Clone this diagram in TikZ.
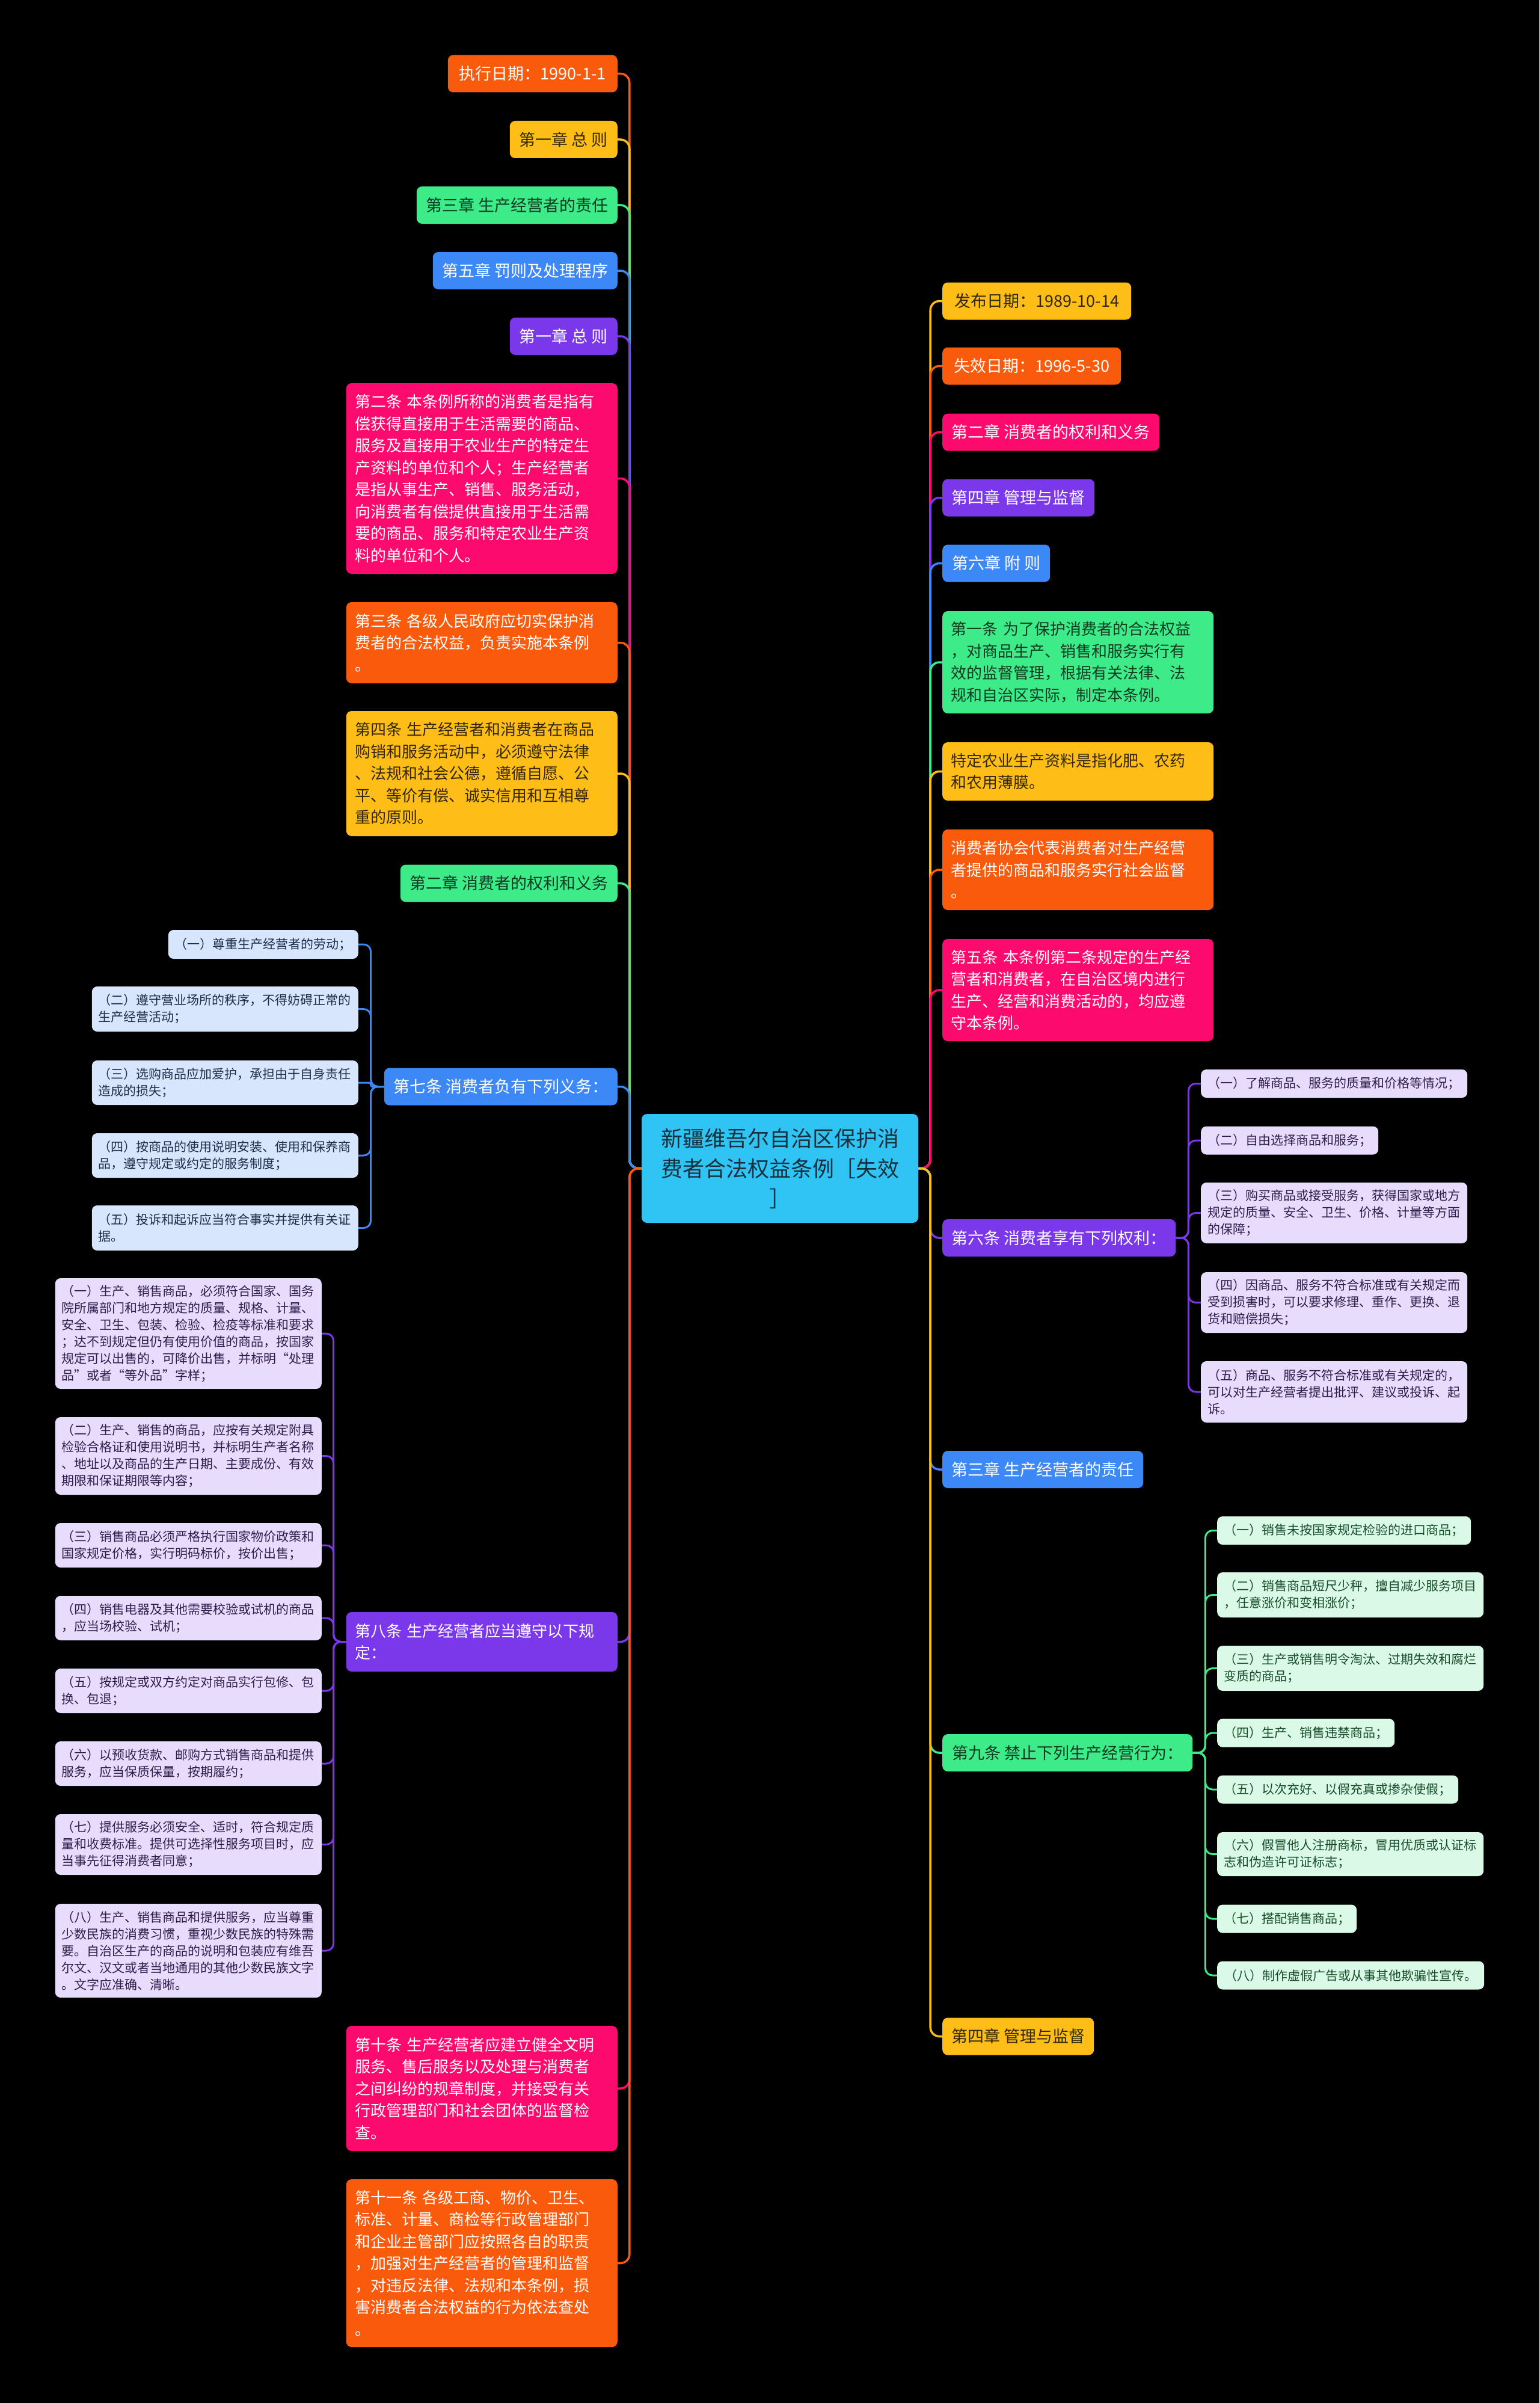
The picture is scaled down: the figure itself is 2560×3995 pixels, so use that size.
\documentclass[tikz,border=0pt]{standalone}
\usepackage{fontspec}
\setmainfont{Noto Sans CJK SC}
\definecolor{cOr}{HTML}{FA5A0C}
\definecolor{cYe}{HTML}{FFBE17}
\definecolor{cGr}{HTML}{3DEB89}
\definecolor{cBl}{HTML}{3C88F6}
\definecolor{cPu}{HTML}{7B38EB}
\definecolor{cPk}{HTML}{FC0A6D}
\definecolor{cRoot}{HTML}{30C4F5}
\definecolor{tYe}{HTML}{33270A}
\definecolor{tGr}{HTML}{113A22}
\definecolor{tRoot}{HTML}{16313D}
\definecolor{fBl}{HTML}{D7E6FD}
\definecolor{fPu}{HTML}{E7DCFB}
\definecolor{fGr}{HTML}{DAFAE7}
\definecolor{tBl}{HTML}{1E2C48}
\definecolor{tPu}{HTML}{2D1C4C}
\definecolor{tGc}{HTML}{174D2A}
\newcommand\fmain{\fontsize{26}{36.5}\selectfont}
\newcommand\fone{\fontsize{27}{36.5}\selectfont}
\newcommand\fchild{\fontsize{21}{28}\selectfont}
\newcommand\froot{\fontsize{36}{50}\selectfont}
\tikzset{
  nd/.style={rounded corners=9pt, inner ysep=0pt},
  boxone/.style={nd, font=\fone, align=center, inner xsep=12pt, minimum height=62pt},
  boxmulti/.style={nd, font=\fmain, text width=422pt, align=left, inner xsep=14.5pt},
  chone/.style={nd, font=\fchild, align=center, inner xsep=11pt, minimum height=47pt},
  chmulti/.style={nd, font=\fchild, text width=421pt, align=left, inner xsep=11pt},
  sOr/.style={fill=cOr, text=white},
  sYe/.style={fill=cYe, text=tYe},
  sGr/.style={fill=cGr, text=tGr},
  sBl/.style={fill=cBl, text=white},
  sPu/.style={fill=cPu, text=white},
  sPk/.style={fill=cPk, text=white},
  kBl/.style={fill=fBl, text=tBl},
  kPu/.style={fill=fPu, text=tPu},
  kGr/.style={fill=fGr, text=tGc},
  lnmain/.style={line width=3.5pt, rounded corners=15pt},
  lnsub/.style={line width=3pt, rounded corners=12pt},
}
\begin{document}
\begin{tikzpicture}[x=1pt,y=-1pt]
\useasboundingbox (0,0) rectangle (2560,3995);
\fill[black] (0,0) rectangle (2560,3995);

% root
\node[nd, fill=cRoot, text=tRoot, font=\froot, align=center, minimum width=460, minimum height=181] (root) at (1297,1942.5) {新疆维吾尔自治区保护消\\费者合法权益条例［失效\\］};

% left main
\node[boxone,sOr,anchor=east,minimum width=282] (L1) at (1027,122.5) {执行日期：1990-1-1};
\node[boxone,sYe,anchor=east,minimum width=179] (L2) at (1027,232) {第一章 总 则};
\node[boxone,sGr,anchor=east,minimum width=334] (L3) at (1027,341) {第三章 生产经营者的责任};
\node[boxone,sBl,anchor=east,minimum width=307] (L4) at (1027,450) {第五章 罚则及处理程序};
\node[boxone,sPu,anchor=east,minimum width=179] (L5) at (1027,559) {第一章 总 则};
\node[boxmulti,sPk,anchor=east,minimum height=317] (L6) at (1027,795.5) {第二条 本条例所称的消费者是指有\\偿获得直接用于生活需要的商品、\\服务及直接用于农业生产的特定生\\产资料的单位和个人；生产经营者\\是指从事生产、销售、服务活动，\\向消费者有偿提供直接用于生活需\\要的商品、服务和特定农业生产资\\料的单位和个人。};
\node[boxmulti,sOr,anchor=east,minimum height=135] (L7) at (1027,1068.5) {第三条 各级人民政府应切实保护消\\费者的合法权益，负责实施本条例\\。};
\node[boxmulti,sYe,anchor=east,minimum height=208] (L8) at (1027,1286) {第四条 生产经营者和消费者在商品\\购销和服务活动中，必须遵守法律\\、法规和社会公德，遵循自愿、公\\平、等价有偿、诚实信用和互相尊\\重的原则。};
\node[boxone,sGr,anchor=east,minimum width=361] (L9) at (1027,1468.5) {第二章 消费者的权利和义务};
\node[boxone,sBl,anchor=east,minimum width=388] (L10) at (1027,1806.5) {第七条 消费者负有下列义务：};
\node[boxmulti,sPu,anchor=east,minimum height=99] (L11) at (1027,2729.5) {第八条 生产经营者应当遵守以下规\\定：};
\node[boxmulti,sPk,anchor=east,minimum height=208] (L12) at (1027,3472) {第十条 生产经营者应建立健全文明\\服务、售后服务以及处理与消费者\\之间纠纷的规章制度，并接受有关\\行政管理部门和社会团体的监督检\\查。};
\node[boxmulti,sOr,anchor=east,minimum height=279] (L13) at (1027,3762.5) {第十一条 各级工商、物价、卫生、\\标准、计量、商检等行政管理部门\\和企业主管部门应按照各自的职责\\，加强对生产经营者的管理和监督\\，对违反法律、法规和本条例，损\\害消费者合法权益的行为依法查处\\。};

% right main
\node[boxone,sYe,anchor=west,minimum width=314] (R1) at (1567,500.5) {发布日期：1989-10-14};
\node[boxone,sOr,anchor=west,minimum width=297] (R2) at (1567,608.5) {失效日期：1996-5-30};
\node[boxone,sPk,anchor=west,minimum width=361] (R3) at (1567,718.5) {第二章 消费者的权利和义务};
\node[boxone,sPu,anchor=west,minimum width=253] (R4) at (1567,827.5) {第四章 管理与监督};
\node[boxone,sBl,anchor=west,minimum width=179] (R5) at (1567,936.5) {第六章 附 则};
\node[boxmulti,sGr,anchor=west,minimum height=170] (R6) at (1567,1101) {第一条 为了保护消费者的合法权益\\，对商品生产、销售和服务实行有\\效的监督管理，根据有关法律、法\\规和自治区实际，制定本条例。};
\node[boxmulti,sYe,anchor=west,minimum height=97] (R7) at (1567,1282.5) {特定农业生产资料是指化肥、农药\\和农用薄膜。};
\node[boxmulti,sOr,anchor=west,minimum height=134] (R8) at (1567,1446) {消费者协会代表消费者对生产经营\\者提供的商品和服务实行社会监督\\。};
\node[boxmulti,sPk,anchor=west,minimum height=170] (R9) at (1567,1646) {第五条 本条例第二条规定的生产经\\营者和消费者，在自治区境内进行\\生产、经营和消费活动的，均应遵\\守本条例。};
\node[boxone,sPu,anchor=west,minimum width=388] (R10) at (1567,2058) {第六条 消费者享有下列权利：};
\node[boxone,sBl,anchor=west,minimum width=334] (R11) at (1567,2443) {第三章 生产经营者的责任};
\node[boxone,sGr,anchor=west,minimum width=416] (R12) at (1567,2914) {第九条 禁止下列生产经营行为：};
\node[boxone,sYe,anchor=west,minimum width=252] (R13) at (1567,3385.5) {第四章 管理与监督};

% children of 第七条
\node[chone,kBl,anchor=east,minimum width=316,minimum height=48] (a1) at (596,1570) {（一）尊重生产经营者的劳动；};
\node[chmulti,kBl,anchor=east,minimum height=75] (a2) at (596,1677.5) {（二）遵守营业场所的秩序，不得妨碍正常的\\生产经营活动；};
\node[chmulti,kBl,anchor=east,minimum height=74] (a3) at (596,1800) {（三）选购商品应加爱护，承担由于自身责任\\造成的损失；};
\node[chmulti,kBl,anchor=east,minimum height=74] (a4) at (596,1921) {（四）按商品的使用说明安装、使用和保养商\\品，遵守规定或约定的服务制度；};
\node[chmulti,kBl,anchor=east,minimum height=75] (a5) at (596,2041.5) {（五）投诉和起诉应当符合事实并提供有关证\\据。};

% children of 第八条
\node[chmulti,kPu,anchor=east,minimum height=184] (b1) at (535,2217) {（一）生产、销售商品，必须符合国家、国务\\院所属部门和地方规定的质量、规格、计量、\\安全、卫生、包装、检验、检疫等标准和要求\\；达不到规定但仍有使用价值的商品，按国家\\规定可以出售的，可降价出售，并标明“处理\\品”或者“等外品”字样；};
\node[chmulti,kPu,anchor=east,minimum height=129] (b2) at (535,2420.5) {（二）生产、销售的商品，应按有关规定附具\\检验合格证和使用说明书，并标明生产者名称\\、地址以及商品的生产日期、主要成份、有效\\期限和保证期限等内容；};
\node[chmulti,kPu,anchor=east,minimum height=74] (b3) at (535,2569) {（三）销售商品必须严格执行国家物价政策和\\国家规定价格，实行明码标价，按价出售；};
\node[chmulti,kPu,anchor=east,minimum height=74] (b4) at (535,2690) {（四）销售电器及其他需要校验或试机的商品\\，应当场校验、试机；};
\node[chmulti,kPu,anchor=east,minimum height=74] (b5) at (535,2811) {（五）按规定或双方约定对商品实行包修、包\\换、包退；};
\node[chmulti,kPu,anchor=east,minimum height=74] (b6) at (535,2932) {（六）以预收货款、邮购方式销售商品和提供\\服务，应当保质保量，按期履约；};
\node[chmulti,kPu,anchor=east,minimum height=101] (b7) at (535,3066.5) {（七）提供服务必须安全、适时，符合规定质\\量和收费标准。提供可选择性服务项目时，应\\当事先征得消费者同意；};
\node[chmulti,kPu,anchor=east,minimum height=156] (b8) at (535,3243) {（八）生产、销售商品和提供服务，应当尊重\\少数民族的消费习惯，重视少数民族的特殊需\\要。自治区生产的商品的说明和包装应有维吾\\尔文、汉文或者当地通用的其他少数民族文字\\。文字应准确、清晰。};

% children of 第六条
\node[chone,kPu,anchor=west,minimum width=443] (c1) at (1997,1801.5) {（一）了解商品、服务的质量和价格等情况；};
\node[chone,kPu,anchor=west,minimum width=295] (c2) at (1997,1896) {（二）自由选择商品和服务；};
\node[chmulti,kPu,anchor=west,minimum height=101] (c3) at (1997,2016.5) {（三）购买商品或接受服务，获得国家或地方\\规定的质量、安全、卫生、价格、计量等方面\\的保障；};
\node[chmulti,kPu,anchor=west,minimum height=101] (c4) at (1997,2165.5) {（四）因商品、服务不符合标准或有关规定而\\受到损害时，可以要求修理、重作、更换、退\\货和赔偿损失；};
\node[chmulti,kPu,anchor=west,minimum height=102] (c5) at (1997,2314) {（五）商品、服务不符合标准或有关规定的，\\可以对生产经营者提出批评、建议或投诉、起\\诉。};

% children of 第九条
\node[chone,kGr,anchor=west,minimum width=422] (d1) at (2024,2544.5) {（一）销售未按国家规定检验的进口商品；};
\node[chmulti,kGr,anchor=west,minimum height=75] (d2) at (2024,2651.5) {（二）销售商品短尺少秤，擅自减少服务项目\\，任意涨价和变相涨价；};
\node[chmulti,kGr,anchor=west,minimum height=75] (d3) at (2024,2773.5) {（三）生产或销售明令淘汰、过期失效和腐烂\\变质的商品；};
\node[chone,kGr,anchor=west,minimum width=295] (d4) at (2024,2881) {（四）生产、销售违禁商品；};
\node[chone,kGr,anchor=west,minimum width=401] (d5) at (2024,2975) {（五）以次充好、以假充真或掺杂使假；};
\node[chmulti,kGr,anchor=west,minimum height=73] (d6) at (2024,3082.5) {（六）假冒他人注册商标，冒用优质或认证标\\志和伪造许可证标志；};
\node[chone,kGr,anchor=west,minimum width=232] (d7) at (2024,3190) {（七）搭配销售商品；};
\node[chone,kGr,anchor=west,minimum width=444] (d8) at (2024,3284) {（八）制作虚假广告或从事其他欺骗性宣传。};

% main connectors, left
\draw[lnmain,draw=cOr] (root.west) -- ++(-20,0) |- (L1.east);
\draw[lnmain,draw=cYe] (root.west) -- ++(-20,0) |- (L2.east);
\draw[lnmain,draw=cGr] (root.west) -- ++(-20,0) |- (L3.east);
\draw[lnmain,draw=cBl] (root.west) -- ++(-20,0) |- (L4.east);
\draw[lnmain,draw=cPu] (root.west) -- ++(-20,0) |- (L5.east);
\draw[lnmain,draw=cPk] (root.west) -- ++(-20,0) |- (L6.east);
\draw[lnmain,draw=cOr] (root.west) -- ++(-20,0) |- (L7.east);
\draw[lnmain,draw=cYe] (root.west) -- ++(-20,0) |- (L8.east);
\draw[lnmain,draw=cGr] (root.west) -- ++(-20,0) |- (L9.east);
\draw[lnmain,draw=cBl] (root.west) -- ++(-20,0) |- (L10.east);
\draw[lnmain,draw=cPu] (root.west) -- ++(-20,0) |- (L11.east);
\draw[lnmain,draw=cPk] (root.west) -- ++(-20,0) |- (L12.east);
\draw[lnmain,draw=cOr] (root.west) -- ++(-20,0) |- (L13.east);

% main connectors, right
\draw[lnmain,draw=cYe] (root.east) -- ++(20,0) |- (R1.west);
\draw[lnmain,draw=cOr] (root.east) -- ++(20,0) |- (R2.west);
\draw[lnmain,draw=cPk] (root.east) -- ++(20,0) |- (R3.west);
\draw[lnmain,draw=cPu] (root.east) -- ++(20,0) |- (R4.west);
\draw[lnmain,draw=cBl] (root.east) -- ++(20,0) |- (R5.west);
\draw[lnmain,draw=cGr] (root.east) -- ++(20,0) |- (R6.west);
\draw[lnmain,draw=cYe] (root.east) -- ++(20,0) |- (R7.west);
\draw[lnmain,draw=cOr] (root.east) -- ++(20,0) |- (R8.west);
\draw[lnmain,draw=cPk] (root.east) -- ++(20,0) |- (R9.west);
\draw[lnmain,draw=cPu] (root.east) -- ++(20,0) |- (R10.west);
\draw[lnmain,draw=cBl] (root.east) -- ++(20,0) |- (R11.west);
\draw[lnmain,draw=cGr] (root.east) -- ++(20,0) |- (R12.west);
\draw[lnmain,draw=cYe] (root.east) -- ++(20,0) |- (R13.west);

% sub connectors
\foreach \c in {a1,a2,a4,a5} {\draw[lnsub,draw=cBl] (L10.west) -- ++(-22,0) |- (\c.east);}
\draw[lnsub,draw=cBl,rounded corners=3pt] (L10.west) -- ++(-22,0) |- (a3.east);
\foreach \c in {b1,b2,b3,b4,b5,b6,b7,b8} {\draw[lnsub,draw=cPu] (L11.west) -- ++(-21,0) |- (\c.east);}
\foreach \c in {c1,c2,c3,c4,c5} {\draw[lnsub,draw=cPu] (R10.east) -- ++(21,0) |- (\c.west);}
\foreach \c in {d1,d2,d3,d4,d5,d6,d7,d8} {\draw[lnsub,draw=cGr] (R12.east) -- ++(21,0) |- (\c.west);}
\end{tikzpicture}
\end{document}
